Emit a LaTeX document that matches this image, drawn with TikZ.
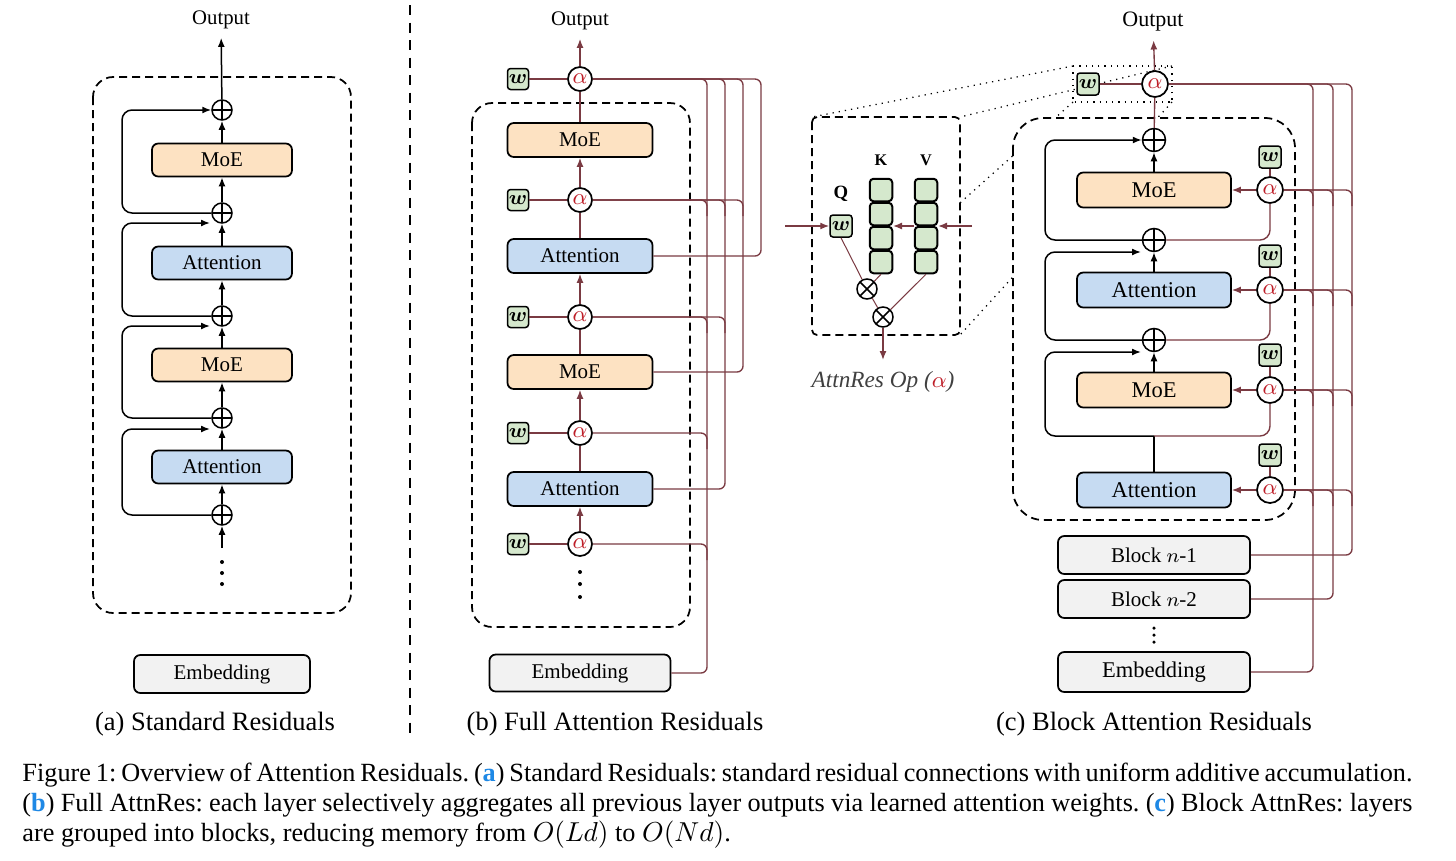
\documentclass[tikz,border=0pt]{standalone}
\usepackage{fontspec}
\setmainfont{Liberation Serif}
\usepackage{bm}
\usetikzlibrary{arrows.meta,calc}
\definecolor{brn}{RGB}{122,58,66}
\definecolor{alred}{RGB}{190,30,40}
\definecolor{moecol}{RGB}{253,226,194}
\definecolor{attcol}{RGB}{198,219,242}
\definecolor{embcol}{RGB}{242,242,242}
\definecolor{wgrn}{RGB}{213,232,205}
\definecolor{capblue}{RGB}{30,136,229}
\tikzset{
  blk/.style={draw, line width=0.7pt, rounded corners=2.5pt, inner sep=0pt, font=\fontsize{8.4}{10}\selectfont},
  boxa/.style={blk, minimum width=56pt, minimum height=13.2pt},
  boxb/.style={blk, minimum width=58pt, minimum height=13.6pt},
  boxc/.style={blk, minimum width=61.6pt, minimum height=14pt, font=\fontsize{9}{11}\selectfont},
  embbox/.style={blk, fill=embcol},
  pls/.style={circle, draw, fill=white, line width=0.6pt, inner sep=0pt, minimum size=#1,
    path picture={\draw[line width=0.6pt] (path picture bounding box.north) -- (path picture bounding box.south) (path picture bounding box.west) -- (path picture bounding box.east);}},
  tms/.style={circle, draw, fill=white, line width=0.6pt, inner sep=0pt, minimum size=8pt,
    path picture={\draw[line width=0.6pt] (path picture bounding box.north west) -- (path picture bounding box.south east) (path picture bounding box.south west) -- (path picture bounding box.north east);}},
  alf/.style={circle, draw, fill=white, line width=0.7pt, inner sep=0pt, minimum size=#1, font=\fontsize{9}{10}\selectfont, text=alred},
  wbox/.style={draw, fill=wgrn, line width=0.6pt, rounded corners=1.2pt, inner sep=0pt, minimum size=#1, font=\fontsize{8}{9}\selectfont},
  kv/.style={draw, fill=wgrn, line width=0.8pt, rounded corners=1.5pt, inner sep=0pt, minimum size=9pt},
  ar/.style={line width=0.6pt, -{Latex[length=3.6pt,width=2.8pt]}},
  ln/.style={line width=0.6pt},
  bl/.style={draw=brn, line width=0.55pt},
  bar/.style={draw=brn, line width=0.55pt, -{Latex[length=3.6pt,width=2.8pt]}},
  dbox/.style={draw, line width=0.7pt, dash pattern=on 3.2pt off 2pt, rounded corners=8pt},
  dotl/.style={draw, line width=0.5pt, dotted},
  outl/.style={font=\fontsize{8.3}{10}\selectfont},
  subcap/.style={font=\fontsize{10.6}{12}\selectfont},
}
\begin{document}
\begin{tikzpicture}[x=0.4pt,y=-0.4pt]
\useasboundingbox (0,0) rectangle (1456,861);

% ---------------- Panel (a) ----------------
\node[outl] (outa) at (221,20) {Output};
\draw[dbox] (93,77) rectangle (351,613);
\node[boxa, fill=moecol] (am1) at (222,160) {MoE};
\node[boxa, fill=attcol] (aa1) at (222,263) {Attention};
\node[boxa, fill=moecol] (am2) at (222,365) {MoE};
\node[boxa, fill=attcol] (aa2) at (222,467) {Attention};
\node[pls=8pt] (ap1) at (222,110) {};
\node[pls=8pt] (ap2) at (222,213) {};
\node[pls=8pt] (ap3) at (222,316) {};
\node[pls=8pt] (ap4) at (222,418) {};
\node[pls=8pt] (ap5) at (222,515) {};
\fill (222,562) circle (0.8pt) (222,573) circle (0.8pt) (222,584) circle (0.8pt);
\coordinate (adot) at (222,548);
\draw[ar] (adot) -- (ap5);
\draw[ar] (ap5) -- (aa2);
\draw[ar] (aa2) -- (ap4);
\draw[ar] (ap4) -- (am2);
\draw[ar] (am2) -- (ap3);
\draw[ar] (ap3) -- (aa1);
\draw[ar] (aa1) -- (ap2);
\draw[ar] (ap2) -- (am1);
\draw[ar] (am1) -- (ap1);
\draw[ar] (ap1) -- (outa);
\coordinate (ah2) at (210,223);
\coordinate (ah3) at (210,326);
\coordinate (ah4) at (210,429);
\draw[ar, rounded corners=4pt] (ap2.west) -- (122,213) -- (122,110) -- (ap1.west);
\draw[ar, rounded corners=4pt] (ap3.west) -- (122,316) -- (122,223) -- (ah2);
\draw[ar, rounded corners=4pt] (ap4.west) -- (122,418) -- (122,326) -- (ah3);
\draw[ar, rounded corners=4pt] (ap5.west) -- (122,515) -- (122,429) -- (ah4);
\node[embbox, minimum width=70.4pt, minimum height=15.2pt] (aemb) at (222,674) {Embedding};
\node[subcap] (capa) at (215,724) {(a) Standard Residuals};

% divider
\draw[line width=0.7pt, dash pattern=on 4pt off 3pt] (410,5) -- (410,740);

% ---------------- Panel (b) ----------------
\node[outl] (outb) at (580,21) {Output};
\draw[dbox] (472,103) rectangle (690,627);
\node[boxb, fill=moecol] (bm1) at (580,140) {MoE};
\node[boxb, fill=attcol] (ba1b) at (580,256) {Attention};
\node[boxb, fill=moecol] (bm2) at (580,372) {MoE};
\node[boxb, fill=attcol] (ba2b) at (580,489) {Attention};
\node[alf=9.6pt] (b1) at (580,79) {$\alpha$};
\node[alf=9.6pt] (b2) at (580,200) {$\alpha$};
\node[alf=9.6pt] (b3) at (580,317) {$\alpha$};
\node[alf=9.6pt] (b4) at (580,433) {$\alpha$};
\node[alf=9.6pt] (b5) at (580,544) {$\alpha$};
\foreach \i/\y in {1/79,2/200,3/317,4/433,5/544}{
  \node[wbox=8.4pt] (bw\i) at (518,\y) {$\bm{w}$};
  \draw[bl] (bw\i) -- (b\i);
}
\fill (580,572) circle (0.8pt) (580,584) circle (0.8pt) (580,597) circle (0.8pt);
\draw[bar] (b1) -- (outb);
\draw[bl] (bm1) -- (b1);
\draw[bar] (b2) -- (bm1);
\draw[bl] (ba1b) -- (b2);
\draw[bar] (b3) -- (ba1b);
\draw[bl] (bm2) -- (b3);
\draw[bar] (b4) -- (bm2);
\draw[bl] (ba2b) -- (b4);
\draw[bar] (b5) -- (ba2b);
\node[embbox, minimum width=72.4pt, minimum height=14.8pt] (bemb) at (580,673) {Embedding};
% bus lines
\draw[bl, rounded corners=2.4pt] (bemb.east) -| (707,79) -- (b1.east);
\draw[bl, rounded corners=2.4pt] (ba2b.east) -| (725,79) -- (b1.east);
\draw[bl, rounded corners=2.4pt] (bm2.east) -| (743,79) -- (b1.east);
\draw[bl, rounded corners=2.4pt] (ba1b.east) -| (761,79) -- (b1.east);
\draw[bl, rounded corners=2.4pt] (b2.east) -| (707,216);
\draw[bl, rounded corners=2.4pt] (b2.east) -| (725,216);
\draw[bl, rounded corners=2.4pt] (b2.east) -| (743,216);
\draw[bl, rounded corners=2.4pt] (b3.east) -| (707,333);
\draw[bl, rounded corners=2.4pt] (b3.east) -| (725,333);
\draw[bl, rounded corners=2.4pt] (b4.east) -| (707,449);
\draw[bl, rounded corners=2.4pt] (b5.east) -| (707,560);
\node[subcap] (capb) at (615,724) {(b) Full Attention Residuals};

% ---------------- Panel (c) ----------------
\node[outl, font=\fontsize{8.8}{10}\selectfont] (outc) at (1153,22) {Output};
% dotted zoom lines
\draw[dotl] (1073,66) -- (812,117);
\draw[dotl] (1172,66) -- (960,117);
\draw[dotl] (1073,102) -- (812,335);
\draw[dotl] (1172,102) -- (960,335);
\draw[dbox, fill=white, rounded corners=12pt] (1013,118) rectangle (1295,520);
\draw[dotl] (1073,66) rectangle (1172,102);
\node[alf=10.4pt] (c0) at (1155,84) {$\alpha$};
\node[wbox=8.8pt] (cw0) at (1088,84) {$\bm{w}$};
\draw[bl] (cw0) -- (c0);
\draw[bar] (c0) -- (outc);
\node[boxc, fill=moecol] (cm1) at (1154,190) {MoE};
\node[boxc, fill=attcol] (cat1) at (1154,290) {Attention};
\node[boxc, fill=moecol] (cm2) at (1154,390) {MoE};
\node[boxc, fill=attcol] (cat2) at (1154,490) {Attention};
\node[pls=9.2pt] (cp1) at (1154,140) {};
\node[pls=9.2pt] (cp2) at (1154,240) {};
\node[pls=9.2pt] (cp3) at (1154,340) {};
\foreach \i/\y/\wy in {1/190/157,2/290/256,3/390/355,4/490/455}{
  \node[alf=10.4pt] (c\i) at (1270,\y) {$\alpha$};
  \node[wbox=8.8pt] (cw\i) at (1270,\wy) {$\bm{w}$};
  \draw[bl] (cw\i) -- (c\i);
}
\draw[bar] (c1) -- (cm1);
\draw[bar] (c2) -- (cat1);
\draw[bar] (c3) -- (cm2);
\draw[bar] (c4) -- (cat2);
\draw[bl] (cp1) -- (c0);
\draw[ar] (cm1) -- (cp1);
\draw[ar] (cat1) -- (cp2);
\draw[ar] (cm2) -- (cp3);
\coordinate (cj) at (1154,436);
\draw[ln] (cat2) -- (cj);
\draw[bl, rounded corners=4pt] (c1.south) |- (cp2.east);
\draw[bl, rounded corners=4pt] (c2.south) |- (cp3.east);
\draw[bl, rounded corners=4pt] (c3.south) |- (cj);
\coordinate (ch2) at (1141,252);
\coordinate (ch3) at (1141,352);
\draw[ar, rounded corners=4pt] (cp2.west) -- (1045,240) -- (1045,140) -- (cp1.west);
\draw[ar, rounded corners=4pt] (cp3.west) -- (1045,340) -- (1045,252) -- (ch2);
\draw[ar, rounded corners=4pt] (cj) -- (1045,436) -- (1045,352) -- (ch3);
\node[embbox, minimum width=76.8pt, minimum height=15.2pt, font=\fontsize{8.4}{10}\selectfont] (bn1) at (1154,555) {Block $n$-1};
\node[embbox, minimum width=76.8pt, minimum height=15.2pt, font=\fontsize{8.4}{10}\selectfont] (bn2) at (1154,599) {Block $n$-2};
\fill (1154,628) circle (0.7pt) (1154,635) circle (0.7pt) (1154,642) circle (0.7pt);
\node[embbox, minimum width=76.8pt, minimum height=16pt, font=\fontsize{9}{11}\selectfont] (cemb) at (1154,672) {Embedding};
% bus lines
\draw[bl, rounded corners=2.4pt] (cemb.east) -| (1313,84) -- (c0.east);
\draw[bl, rounded corners=2.4pt] (bn2.east) -| (1333,84) -- (c0.east);
\draw[bl, rounded corners=2.4pt] (bn1.east) -| (1352,84) -- (c0.east);
\foreach \i/\y in {1/206,2/306,3/406,4/506}{
  \draw[bl, rounded corners=2.4pt] (c\i.east) -| (1313,\y);
  \draw[bl, rounded corners=2.4pt] (c\i.east) -| (1333,\y);
  \draw[bl, rounded corners=2.4pt] (c\i.east) -| (1352,\y);
}
\node[subcap] (capc) at (1154,724) {(c) Block Attention Residuals};

% ---------------- AttnRes Op inset ----------------
\draw[draw, fill=white, line width=0.7pt, dash pattern=on 3.2pt off 2pt, rounded corners=2pt] (812,117) rectangle (960,335);
\node[font=\bfseries\fontsize{7.5}{9}\selectfont] (ql) at (841,194) {Q};
\node[font=\bfseries\fontsize{6.5}{8}\selectfont] (kl) at (881,160) {K};
\node[font=\bfseries\fontsize{6.5}{8}\selectfont] (vl) at (926,160) {V};
\node[wbox=8.8pt] (wq) at (841,226) {$\bm{w}$};
\foreach \j/\y in {1/190,2/214,3/238,4/262}{
  \node[kv] (k\j) at (881,\y) {};
  \node[kv] (v\j) at (926,\y) {};
}
\node[tms] (ot1) at (867,289) {};
\node[tms] (ot2) at (883,317) {};
\coordinate (ein) at (785,226);
\coordinate (vin) at (972,226);
\coordinate (veast) at (938,226);
\coordinate (vwest) at (914,226);
\coordinate (keast) at (893,226);
\coordinate (eout) at (883,360);
\draw[bar] (ein) -- (wq.west);
\draw[bar] (vin) -- (veast);
\draw[bar] (vwest) -- (keast);
\draw[bl, line width=0.4pt] (wq.south) -- (ot1);
\draw[bl, line width=0.4pt] (k4.south) -- (ot1);
\draw[bl, line width=0.4pt] (ot1) -- (ot2);
\draw[bl, line width=0.4pt] (v4.south) -- (ot2);
\draw[bar] (ot2) -- (eout);
\node[font=\itshape\fontsize{9.3}{11}\selectfont, text=black!75] (oplbl) at (883,382) {AttnRes Op ({\color{alred}$\alpha$})};

% ---------------- Caption ----------------
\node[anchor=north west, text width=556pt, align=justify, inner sep=0pt, font=\fontsize{10.5}{12}\selectfont] (cap) at (22,763)
{\frenchspacing\hyphenpenalty=10000\exhyphenpenalty=10000\spaceskip=0.25em plus 0.2em minus 0.12em
Figure 1: Overview of Attention Residuals. ({\color{capblue}\textbf{a}}) Standard Residuals: standard residual connections with uniform additive accumulation.\linebreak
({\color{capblue}\textbf{b}}) Full AttnRes: each layer selectively aggregates all previous layer outputs via learned attention weights. ({\color{capblue}\textbf{c}}) Block AttnRes: layers\linebreak
are grouped into blocks, reducing memory from $O(Ld)$ to $O(Nd)$.};
\end{tikzpicture}
\end{document}
